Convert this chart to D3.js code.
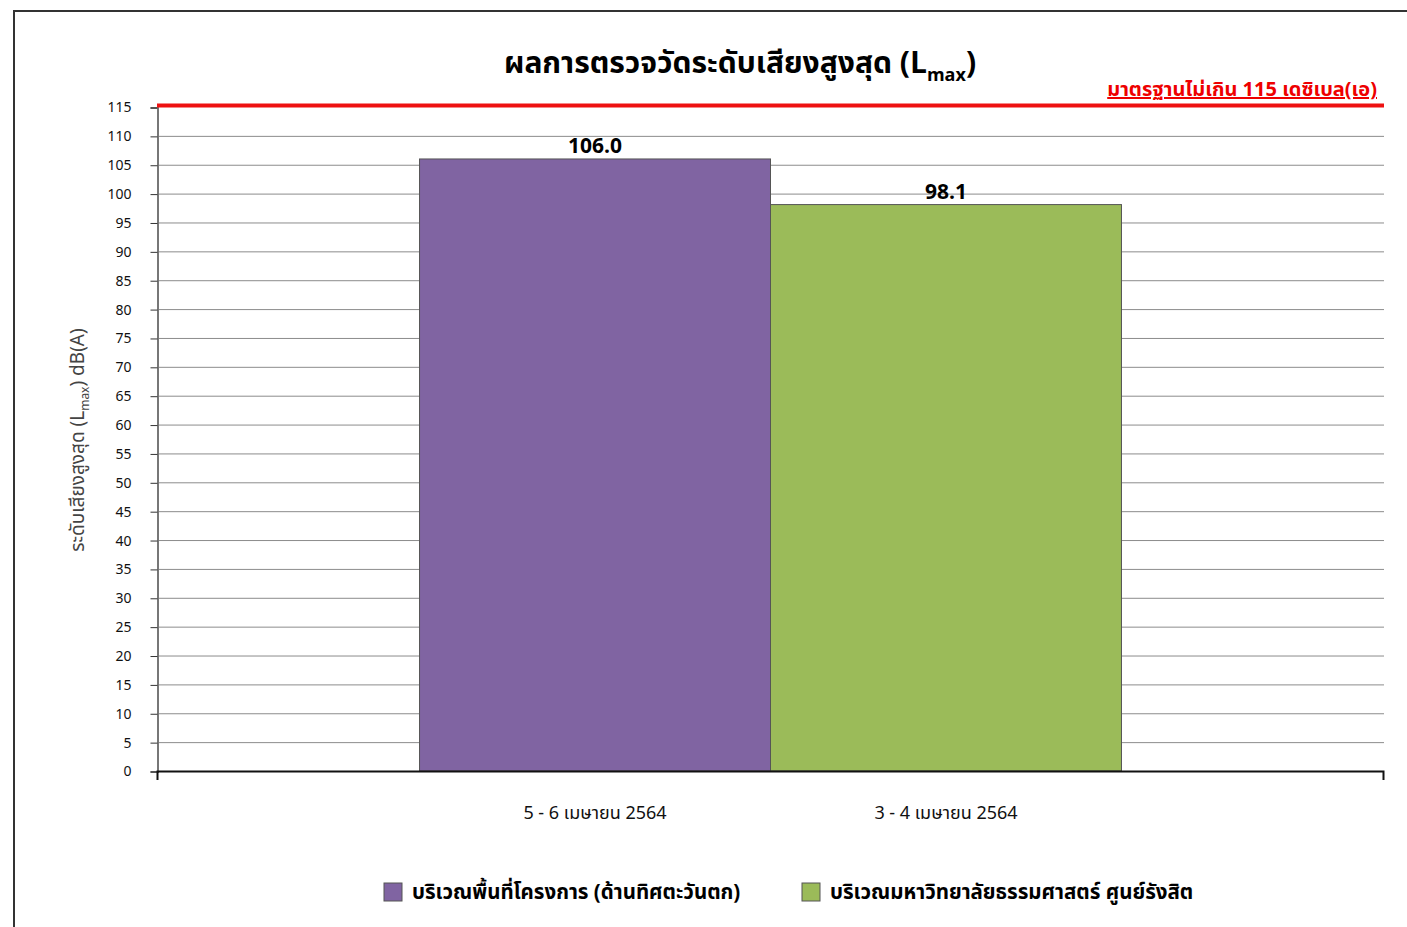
<!DOCTYPE html>
<html>
<head>
<meta charset="utf-8">
<script src="https://cdn.jsdelivr.net/npm/d3@7"></script>
<style>
  body { margin: 0; background: #fff; }
  svg text { font-family: "Noto Sans Thai", "Noto Serif Thai", "Liberation Serif", "Noto Sans", serif; }
</style>
</head>
<body>
<div id="chart"></div>
<script>
var width = 1407;
var height = 927;

// data
var dates = ["5 - 6 เมษายน 2564", "3 - 4 เมษายน 2564"];
var stations = ["บริเวณพื้นที่โครงการ (ด้านทิศตะวันตก)", "บริเวณมหาวิทยาลัยธรรมศาสตร์ ศูนย์รังสิต"];
var lmax = [106.0, 98.1];
var barColors = ["#8064A2", "#9BBB59"];
var yTicks = d3.range(0, 116, 5);
var standard = 115;

var margin = { left: 157, right: 23, top: 107, bottom: 156 };

var svg = d3.select("#chart")
    .append("svg")
    .attr("width", width)
    .attr("height", height)

// outer frame (right / bottom edges fall off the picture)
svg.append("rect")
    .attr("x", 14).attr("y", 11)
    .attr("width", width + 20).attr("height", height + 20)
    .attr("fill", "none")
    .attr("stroke", "#333")
    .attr("stroke-width", 2)

var x = d3.scaleBand()
    .domain(dates)
    .range([margin.left, width - margin.right])
    .paddingInner(0)
    .paddingOuter(0.748)

var y = d3.scaleLinear()
    .domain([0, 115])
    .range([height - margin.bottom, margin.top])

// grid
svg.append("g").selectAll("line").data(yTicks.filter(function(d) { return d > 0 && d < 115 }))
    .enter().append("line")
    .attr("x1", margin.left).attr("x2", width - margin.right)
    .attr("y1", function(d) { return y(d) + 0.5 }).attr("y2", function(d) { return y(d) + 0.5 })
    .attr("stroke", "#8c8c8c")
    .attr("stroke-width", 1)

// y axis
var yAxis = svg.append("g")
    .attr("transform", "translate(" + (margin.left + 0.5) + ",0.5)")
    .call(d3.axisLeft(y).tickValues(yTicks).tickSize(7).tickPadding(19))
yAxis.select(".domain").attr("stroke", "#777").attr("stroke-width", 2)
yAxis.selectAll(".tick line").attr("stroke", "#333")
yAxis.selectAll(".tick text")
    .attr("font-family", "DejaVu Sans, sans-serif")
    .attr("font-size", 14)
    .attr("fill", "#111")

// bars
svg.append("g").selectAll("rect").data(lmax)
    .enter().append("rect")
    .attr("x", function(d, i) { return x(dates[i]) })
    .attr("y", function(d) { return y(d) })
    .attr("width", x.bandwidth())
    .attr("height", function(d) { return y(0) - y(d) })
    .attr("fill", function(d, i) { return barColors[i] })
    .attr("stroke", "#555")
    .attr("stroke-width", 1)

// value labels
svg.append("g").selectAll("text").data(lmax)
    .enter().append("text")
    .attr("x", function(d, i) { return x(dates[i]) + x.bandwidth() / 2 })
    .attr("y", function(d) { return y(d) - 6 })
    .attr("text-anchor", "middle")
    .attr("font-family", "Liberation Serif, serif")
    .attr("font-weight", "bold")
    .attr("font-size", 21)
    .text(function(d) { return d.toFixed(1) })

// x axis baseline with end ticks
svg.append("path")
    .attr("d", "M" + (margin.left + 0.5) + "," + (y(0) + 9) + "V" + (y(0) + 0.5) + "H" + (width - margin.right - 0.5) + "V" + (y(0) + 9))
    .attr("fill", "none")
    .attr("stroke", "#111")
    .attr("stroke-width", 2)

// category labels
svg.append("g").selectAll("text").data(dates)
    .enter().append("text")
    .attr("x", function(d) { return x(d) + x.bandwidth() / 2 })
    .attr("y", y(0) + 48)
    .attr("text-anchor", "middle")
    .attr("font-size", 18)
    .attr("fill", "#111")
    .text(function(d) { return d })

// standard line
svg.append("line")
    .attr("x1", margin.left).attr("x2", width - margin.right)
    .attr("y1", y(standard) - 1.5).attr("y2", y(standard) - 1.5)
    .attr("stroke", "#ee1111")
    .attr("stroke-width", 4)

svg.append("text")
    .attr("x", 1377).attr("y", 96)
    .attr("text-anchor", "end")
    .attr("font-weight", "bold")
    .attr("font-size", 20)
    .attr("fill", "#ee0000")
    .attr("text-decoration", "underline")
    .text("มาตรฐานไม่เกิน 115 เดซิเบล(เอ)")

// title
var title = svg.append("text")
    .attr("x", 740).attr("y", 73)
    .attr("text-anchor", "middle")
    .attr("font-weight", "bold")
    .attr("font-size", 30)
    .attr("fill", "#000")
title.append("tspan").text("ผลการตรวจวัดระดับเสียงสูงสุด (L")
title.append("tspan").attr("font-size", 18).attr("dy", 8).text("max")
title.append("tspan").attr("dy", -8).text(")")

// y label
var ylab = svg.append("text")
    .attr("transform", "translate(84," + 440 + ") rotate(-90)")
    .attr("text-anchor", "middle")
    .attr("font-size", 19)
    .attr("fill", "#444")
ylab.append("tspan").text("ระดับเสียงสูงสุด (L")
ylab.append("tspan").attr("font-size", 12).attr("dy", 5).text("max")
ylab.append("tspan").attr("dy", -5).text(") dB(A)")

// legend
var legendX = [384, 802];
var leg = svg.append("g").selectAll("g").data(stations)
    .enter().append("g")
    .attr("transform", function(d, i) { return "translate(" + legendX[i] + ",883)" })
leg.append("rect")
    .attr("width", 18).attr("height", 18)
    .attr("fill", function(d, i) { return barColors[i] })
    .attr("stroke", "#555")
leg.append("text")
    .attr("x", 28).attr("y", 16)
    .attr("font-weight", "bold")
    .attr("font-size", 20.5)
    .text(function(d) { return d })
</script>
</body>
</html>
